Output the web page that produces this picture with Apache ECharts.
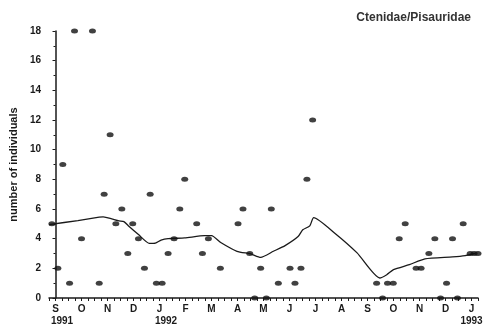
<!DOCTYPE html>
<html>
<head>
<meta charset="utf-8">
<script src="https://cdn.jsdelivr.net/npm/echarts@6/dist/echarts.min.js"></script>
<style>
    html, body { margin: 0; padding: 0; background: #fff; }
    #chart { width: 494px; height: 326px; }
</style>
</head>
<body>
<div id="chart"></div>
<script>
// x = months from September 1991 (0 = S, 16 = J 1993)
const monthLetters = ['S', 'O', 'N', 'D', 'J', 'F', 'M', 'A', 'M', 'J', 'J', 'A', 'S', 'O', 'N', 'D', 'J'];
const yearPositions = [0.25, 4.25, 16];
const yearNames = ['1991', '1992', '1993'];

// weekly samples
const sampleMonth = [
    -0.14, 0.09, 0.28, 0.54, 0.73, 1.0, 1.42, 1.68, 1.87, 2.10,
    2.32, 2.55, 2.78, 2.97, 3.19, 3.42, 3.64, 3.88, 4.10, 4.33,
    4.56, 4.78, 4.97, 5.43, 5.65, 5.88, 6.34, 7.02, 7.21, 7.47,
    7.66, 7.89, 8.11, 8.30, 8.57, 9.02, 9.21, 9.44, 9.67, 9.89,
    12.35, 12.58, 12.77, 12.99, 13.22, 13.45, 13.87, 14.06, 14.36, 14.59,
    14.81, 15.04, 15.27, 15.46, 15.68, 15.95, 16.10, 16.25
];
const sampleCount = [
    5, 2, 9, 1, 18, 4, 18, 1, 7, 11,
    5, 6, 3, 5, 4, 2, 7, 1, 1, 3,
    4, 6, 8, 5, 3, 4, 2, 5, 6, 3,
    0, 2, 0, 6, 1, 2, 1, 2, 8, 12,
    1, 0, 1, 1, 4, 5, 2, 2, 3, 4,
    0, 1, 4, 0, 5, 3, 3, 3
];

// smoothed trend
const trendMonth = [
    -0.25, 0.86, 1.68, 1.83, 2.44, 2.63, 2.82, 3.19, 3.61, 3.84,
    4.06, 4.33, 4.97, 5.73, 6.0, 6.37, 6.98, 7.51, 7.89, 8.38,
    8.83, 9.33, 9.51, 9.78, 9.93, 10.73, 11.60, 12.47, 12.74, 13.0,
    13.61, 14.21, 15.27, 15.76, 16.14
];
const trendValue = [
    4.95, 5.22, 5.45, 5.47, 5.2, 5.15, 4.84, 4.28, 3.68, 3.7,
    3.9, 4.0, 4.05, 4.2, 4.2, 3.72, 3.15, 2.97, 2.74, 3.15,
    3.53, 4.14, 4.6, 4.86, 5.42, 4.39, 3.04, 1.35, 1.57, 1.91,
    2.25, 2.64, 2.77, 2.86, 3.0
];

const ink = '#1a1a1a';
const chart = echarts.init(document.getElementById('chart'));

const samples = sampleMonth.map((m, i) => [m, sampleCount[i]]);
const trend = trendMonth.map((m, i) => [m, trendValue[i]]);

const option = {
    backgroundColor: '#fff',
    animation: false,
    title: {
        text: 'Ctenidae/Pisauridae',
        right: 18,
        top: 7,
        textStyle: { fontFamily: 'Liberation Sans', fontSize: 12, fontWeight: 'bold', color: '#333' }
    },
    grid: { left: 42, right: 16, top: 31, bottom: 28 },
    xAxis: [
        {
            type: 'value',
            min: -0.25,
            max: 16.25,
            interval: 0.25,
            splitLine: { show: false },
            axisLine: { lineStyle: { color: ink, width: 1.5 } },
            axisTick: { length: 3, lineStyle: { color: ink } },
            axisLabel: {
                interval: 0,
                margin: 6,
                color: ink,
                fontFamily: 'Liberation Sans',
                fontSize: 10,
                fontWeight: 'bold',
                formatter: (v) => Number.isInteger(v) ? monthLetters[v] : ''
            }
        },
        {
            type: 'value',
            position: 'bottom',
            min: -0.25,
            max: 16.25,
            interval: 0.25,
            splitLine: { show: false },
            axisLine: { show: false },
            axisTick: { show: false },
            axisLabel: {
                interval: 0,
                margin: 18,
                color: ink,
                fontFamily: 'Liberation Sans',
                fontSize: 10,
                fontWeight: 'bold',
                formatter: (v) => {
                    const k = yearPositions.indexOf(v);
                    return k >= 0 ? yearNames[k] : '';
                }
            }
        }
    ],
    yAxis: {
        type: 'value',
        min: 0,
        max: 18,
        interval: 2,
        name: 'number of individuals',
        nameLocation: 'middle',
        nameGap: 27,
        nameRotate: 90,
        nameTextStyle: { fontFamily: 'Liberation Sans', fontSize: 11, fontWeight: 'bold', color: ink },
        splitLine: { show: false },
        axisLine: { show: true, lineStyle: { color: ink, width: 1.5 } },
        axisTick: { length: 3, lineStyle: { color: ink } },
        minorTick: { show: true, splitNumber: 2, length: 2, lineStyle: { color: ink } },
        axisLabel: {
            margin: 8,
            color: ink,
            fontFamily: 'Liberation Sans',
            fontSize: 10,
            fontWeight: 'bold'
        }
    },
    series: [
        {
            type: 'line',
            data: trend,
            smooth: 0.2,
            showSymbol: false,
            lineStyle: { color: ink, width: 1.3 },
            z: 2
        },
        {
            type: 'scatter',
            data: samples,
            symbol: 'circle',
            symbolSize: [7, 5],
            itemStyle: { color: '#111' },
            z: 3
        }
    ]
};

chart.setOption(option);
</script>
</body>
</html>
